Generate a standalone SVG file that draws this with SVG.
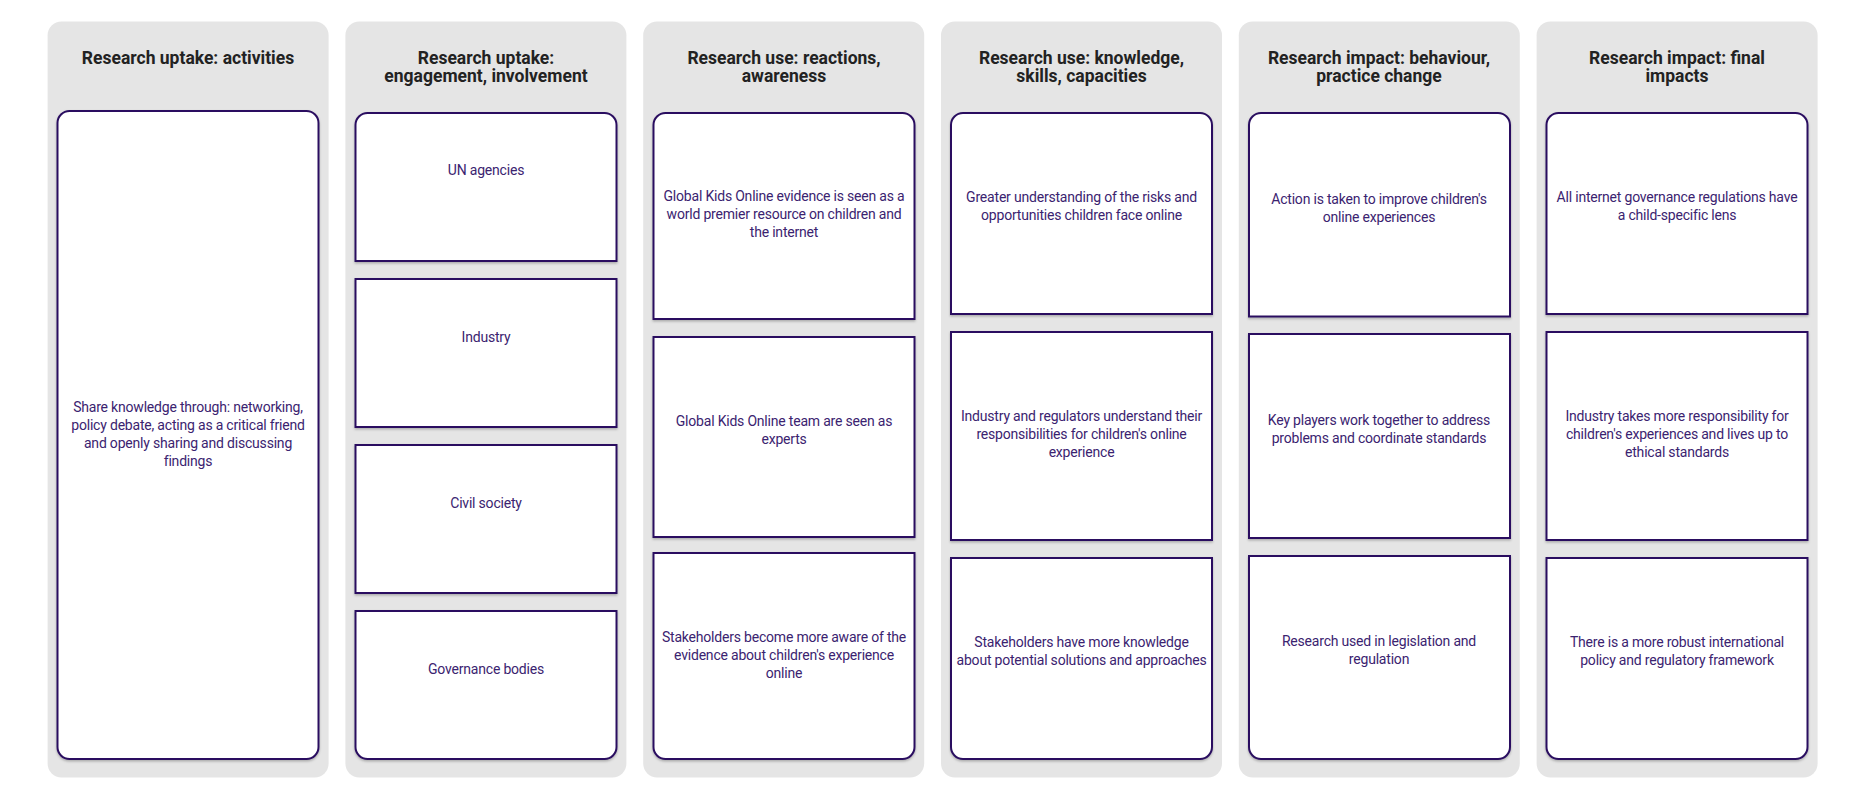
<svg xmlns="http://www.w3.org/2000/svg" width="1866" height="798" viewBox="0 0 1866 798">
<style>
.col{fill:#e5e5e5}
.card{fill:#fff;stroke:#2a1060;stroke-width:2;filter:url(#sh)}
.t{font-family:Roboto,"Liberation Sans",sans-serif;font-size:17.5px;font-weight:bold;fill:#222;text-anchor:middle}
.c{font-family:Roboto,"Liberation Sans",sans-serif;font-size:14px;fill:#3b2370;text-anchor:middle;letter-spacing:-0.2px}
</style>
<defs><filter id="sh" x="-5%" y="-5%" width="110%" height="110%"><feDropShadow dx="0" dy="1.5" stdDeviation="1.2" flood-color="#000" flood-opacity="0.25"/></filter></defs>
<rect width="1866" height="798" fill="#fff"/>
<g id="col1"><rect class="col" x="47.6" y="21.5" width="281" height="756" rx="14"/>
<text class="t" x="188" y="64">Research uptake: activities</text>
<rect class="card" x="57.5" y="111" width="261" height="648" rx="12"/>
<text class="c" x="188" y="412">Share knowledge through: networking,</text><text class="c" x="188" y="430">policy debate, acting as a critical friend</text><text class="c" x="188" y="448">and openly sharing and discussing</text><text class="c" x="188" y="466">findings</text></g>
<g id="col2"><rect class="col" x="345.4" y="21.5" width="281" height="756" rx="14"/>
<text class="t" x="486" y="64">Research uptake:</text><text class="t" x="486" y="82">engagement, involvement</text>
<path class="card" d="M355.5 261V125a12 12 0 0 1 12-12h237a12 12 0 0 1 12 12V261Z"/>
<text class="c" x="486" y="175">UN agencies</text>
<rect class="card" x="355.5" y="279" width="261" height="148"/>
<text class="c" x="486" y="342">Industry</text>
<rect class="card" x="355.5" y="445" width="261" height="148"/>
<text class="c" x="486" y="508">Civil society</text>
<path class="card" d="M355.5 611V747a12 12 0 0 0 12 12h237a12 12 0 0 0 12-12V611Z"/>
<text class="c" x="486" y="674">Governance bodies</text></g>
<g id="col3"><rect class="col" x="643.2" y="21.5" width="281" height="756" rx="14"/>
<text class="t" x="784" y="64">Research use: reactions,</text><text class="t" x="784" y="82">awareness</text>
<path class="card" d="M653.5 319V125a12 12 0 0 1 12-12h237a12 12 0 0 1 12 12V319Z"/>
<text class="c" x="784" y="201">Global Kids Online evidence is seen as a</text><text class="c" x="784" y="219">world premier resource on children and</text><text class="c" x="784" y="237">the internet</text>
<rect class="card" x="653.5" y="337" width="261" height="200"/>
<text class="c" x="784" y="426">Global Kids Online team are seen as</text><text class="c" x="784" y="444">experts</text>
<path class="card" d="M653.5 553V747a12 12 0 0 0 12 12h237a12 12 0 0 0 12-12V553Z"/>
<text class="c" x="784" y="642">Stakeholders become more aware of the</text><text class="c" x="784" y="660">evidence about children's experience</text><text class="c" x="784" y="678">online</text></g>
<g id="col4"><rect class="col" x="941" y="21.5" width="281" height="756" rx="14"/>
<text class="t" x="1081.5" y="64">Research use: knowledge,</text><text class="t" x="1081.5" y="82">skills, capacities</text>
<path class="card" d="M951 314V125a12 12 0 0 1 12-12h237a12 12 0 0 1 12 12V314Z"/>
<text class="c" x="1081.5" y="202">Greater understanding of the risks and</text><text class="c" x="1081.5" y="220">opportunities children face online</text>
<rect class="card" x="951" y="332" width="261" height="208"/>
<text class="c" x="1081.5" y="421">Industry and regulators understand their</text><text class="c" x="1081.5" y="439">responsibilities for children's online</text><text class="c" x="1081.5" y="457">experience</text>
<path class="card" d="M951 558V747a12 12 0 0 0 12 12h237a12 12 0 0 0 12-12V558Z"/>
<text class="c" x="1081.5" y="647">Stakeholders have more knowledge</text><text class="c" x="1081.5" y="665">about potential solutions and approaches</text></g>
<g id="col5"><rect class="col" x="1238.8" y="21.5" width="281" height="756" rx="14"/>
<text class="t" x="1379" y="64">Research impact: behaviour,</text><text class="t" x="1379" y="82">practice change</text>
<path class="card" d="M1249 316.5V125a12 12 0 0 1 12-12h237a12 12 0 0 1 12 12V316.5Z"/>
<text class="c" x="1379" y="204">Action is taken to improve children's</text><text class="c" x="1379" y="222">online experiences</text>
<rect class="card" x="1249" y="334" width="261" height="204"/>
<text class="c" x="1379" y="425">Key players work together to address</text><text class="c" x="1379" y="443">problems and coordinate standards</text>
<path class="card" d="M1249 556V747a12 12 0 0 0 12 12h237a12 12 0 0 0 12-12V556Z"/>
<text class="c" x="1379" y="646">Research used in legislation and</text><text class="c" x="1379" y="664">regulation</text></g>
<g id="col6"><rect class="col" x="1536.6" y="21.5" width="281" height="756" rx="14"/>
<text class="t" x="1677" y="64">Research impact: final</text><text class="t" x="1677" y="82">impacts</text>
<path class="card" d="M1546.5 314V125a12 12 0 0 1 12-12h237a12 12 0 0 1 12 12V314Z"/>
<text class="c" x="1677" y="202">All internet governance regulations have</text><text class="c" x="1677" y="220">a child-specific lens</text>
<rect class="card" x="1546.5" y="332" width="261" height="208"/>
<text class="c" x="1677" y="421">Industry takes more responsibility for</text><text class="c" x="1677" y="439">children's experiences and lives up to</text><text class="c" x="1677" y="457">ethical standards</text>
<path class="card" d="M1546.5 558V747a12 12 0 0 0 12 12h237a12 12 0 0 0 12-12V558Z"/>
<text class="c" x="1677" y="647">There is a more robust international</text><text class="c" x="1677" y="665">policy and regulatory framework</text></g>
<g id="connectors"/>
</svg>
